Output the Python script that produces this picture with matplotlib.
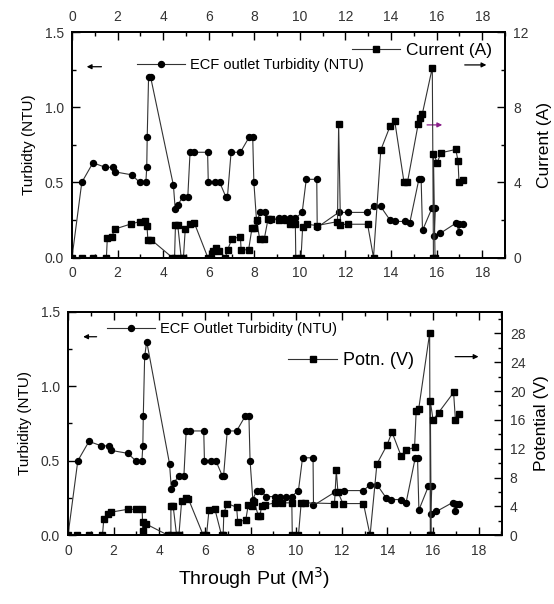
import matplotlib
matplotlib.use("Agg")
import matplotlib.pyplot as plt
from matplotlib.ticker import MultipleLocator, FixedLocator
from matplotlib.lines import Line2D

plt.rcParams['font.family'] = ['Liberation Sans', 'DejaVu Sans']

# ---- data ----
turb_x = [0.00, 0.43, 0.92, 1.46, 1.78, 1.87, 2.62, 2.97, 3.24, 3.28, 3.30, 3.36, 3.45,
          4.45, 4.53, 4.64, 4.85, 5.08, 5.18, 5.36, 5.95, 5.98, 6.27, 6.48, 6.76, 6.82,
          6.98, 7.39, 7.77, 7.93, 7.98, 8.10, 8.27, 8.45, 8.68, 9.07, 9.30, 9.55, 9.80,
          10.10, 10.28, 10.74, 10.76, 11.70, 12.09, 12.95, 13.24, 13.54, 13.95, 14.17,
          14.60, 14.82, 15.22, 15.32, 15.38, 15.80, 15.95, 15.89, 16.15, 16.86, 16.98,
          17.00, 17.15]
turb_top = [0.00, 0.50, 0.63, 0.60, 0.60, 0.57, 0.55, 0.50, 0.50, 0.60, 0.80, 1.20, 1.20,
            0.48, 0.32, 0.35, 0.40, 0.40, 0.70, 0.70, 0.70, 0.50, 0.50, 0.50, 0.40, 0.40,
            0.70, 0.70, 0.80, 0.80, 0.50, 0.24, 0.30, 0.30, 0.25, 0.26, 0.26, 0.26, 0.26,
            0.30, 0.52, 0.52, 0.20, 0.30, 0.30, 0.30, 0.34, 0.34, 0.25, 0.24,
            0.24, 0.23, 0.52, 0.52, 0.18, 0.33, 0.33, 0.14, 0.16, 0.23, 0.17,
            0.22, 0.22]
turb_bot = [0.00, 0.50, 0.63, 0.60, 0.60, 0.57, 0.55, 0.50, 0.50, 0.60, 0.80, 1.20, 1.30,
            0.48, 0.31, 0.35, 0.40, 0.40, 0.70, 0.70, 0.70, 0.50, 0.50, 0.50, 0.40, 0.40,
            0.70, 0.70, 0.80, 0.80, 0.50, 0.24, 0.30, 0.30, 0.26, 0.26, 0.26, 0.26, 0.26,
            0.30, 0.52, 0.52, 0.20, 0.29, 0.30, 0.30, 0.34, 0.34, 0.25, 0.24,
            0.24, 0.22, 0.52, 0.52, 0.17, 0.33, 0.33, 0.14, 0.16, 0.22, 0.16,
            0.21, 0.21]

cur_x = [0.00, 0.43, 0.92, 1.51, 1.55, 1.75, 1.87, 2.60, 2.97, 3.20, 3.29, 3.33, 3.48,
         4.40, 4.50, 4.54, 4.64, 4.79, 4.89, 4.97, 5.16, 5.37, 5.96, 6.10, 6.18, 6.32,
         6.47, 6.73, 6.83, 7.01, 7.39, 7.42, 7.75, 7.90, 8.00, 8.10, 8.23, 8.44, 8.60,
         8.75, 9.10, 9.40, 9.55, 9.80, 9.82, 10.05, 10.12, 10.30, 10.75, 11.65, 11.70,
         11.78, 12.09, 12.97, 13.23, 13.55, 13.96, 14.16, 14.57, 14.72, 15.19, 15.27,
         15.37, 15.81, 15.86, 15.93, 15.86, 16.03, 16.18, 16.84, 16.94, 16.98, 17.16]
current = [0, 0, 0, 0, 1.03, 1.11, 1.51, 1.79, 1.91, 1.95, 1.68, 0.94, 0.94,
           0, 0, 1.73, 1.73, 0, 0, 1.51, 1.79, 1.83, 0, 0, 0.35, 0.50,
           0.32, 0, 0.41, 0.98, 1.11, 0.41, 0.41, 1.59, 1.59, 2.00, 1.01, 1.01, 2.03,
           2.03, 2.00, 2.00, 1.80, 1.80, 0, 0, 1.60, 1.77, 1.70, 1.91, 7.10,
           1.75, 1.77, 1.77, 0, 5.72, 7.00, 7.27, 4.00, 4.00, 7.10, 7.40,
           7.63, 10.10, 0, 0, 5.50, 5.04, 5.57, 5.75, 5.13, 4.03, 4.13]

pot_x = [0.00, 0.41, 0.92, 1.51, 1.57, 1.76, 1.87, 2.61, 2.97, 3.25, 3.28, 3.30, 3.40,
         4.39, 4.51, 4.51, 4.61, 4.76, 4.86, 4.98, 5.15, 5.27, 5.93, 6.07, 6.18, 6.44,
         6.73, 6.80, 6.83, 6.98, 7.39, 7.44, 7.79, 7.90, 8.08, 8.17, 8.34, 8.41, 8.49,
         8.63, 9.07, 9.40, 9.81, 9.83, 10.10, 10.22, 10.39, 11.68, 11.76, 11.83, 12.05,
         12.95, 13.24, 13.54, 13.98, 14.20, 14.60, 14.82, 15.19, 15.26, 15.37, 15.85,
         15.88, 15.92, 15.88, 16.00, 16.24, 16.90, 16.98, 17.12]
potential = [0, 0, 0, 0, 2.3, 2.9, 3.2, 3.6, 3.6, 3.6, 0.6, 1.8, 1.6,
             0, 0, 4.0, 4.0, 0, 0, 4.7, 5.2, 5.1, 0, 0, 3.5, 3.6,
             0, 0, 3.1, 4.4, 3.9, 1.9, 2.1, 4.2, 4.1, 4.6, 2.7, 2.7, 4.1,
             4.2, 4.5, 4.5, 4.5, 0, 0, 4.5, 4.5, 4.4, 9.0, 6.0, 4.4,
             4.4, 0, 9.9, 12.5, 14.3, 11.0, 11.8, 12.2, 17.2, 17.5, 28.0,
             0, 0, 18.6, 16.0, 17.0, 19.8, 16.0, 16.8]

x_ticks = list(range(0, 19, 2))
turb_ticks = [0.0, 0.5, 1.0, 1.5]
cur_ticks = [0, 4, 8, 12]
pot_ticks = [0, 4, 8, 12, 16, 20, 24, 28]

W, H = 554, 604
fig = plt.figure(figsize=(W / 100, H / 100), dpi=100)
ax1 = fig.add_axes([72 / W, 1 - 257.5 / H, 433 / W, 225.5 / H])
ax3 = fig.add_axes([68 / W, 1 - 535.3 / H, 433.5 / W, 223.6 / H])
ax2 = ax1.twinx()
ax4 = ax3.twinx()

line_kw = dict(color='#333333', lw=0.8, mfc='k', mec='k', ms=4.3)
tick_col = '#333333'


def style(ax, axr, rlim, rticks, rminor, top_labels):
    ax.set_xlim(0, 19)
    ax.set_ylim(0, 1.5)
    ax.xaxis.set_major_locator(FixedLocator(x_ticks))
    ax.xaxis.set_minor_locator(MultipleLocator(1))
    ax.yaxis.set_major_locator(FixedLocator(turb_ticks))
    ax.yaxis.set_minor_locator(MultipleLocator(0.25))
    ax.set_yticklabels(['%.1f' % t for t in turb_ticks])
    ax.tick_params(which='both', direction='in', top=True, labeltop=top_labels,
                   labelsize=10, labelcolor=tick_col, pad=6, width=1)
    ax.tick_params(which='major', length=6)
    ax.tick_params(which='minor', length=3)
    axr.set_ylim(*rlim)
    axr.yaxis.set_major_locator(FixedLocator(rticks))
    axr.yaxis.set_minor_locator(MultipleLocator(rminor))
    axr.tick_params(which='both', direction='in', labelsize=10,
                    labelcolor=tick_col, pad=6, width=1)
    axr.tick_params(which='major', length=6)
    axr.tick_params(which='minor', length=3)
    for a in (ax, axr):
        for s in a.spines.values():
            s.set_linewidth(1.3)


def arrow(ax, x0, x1, y, color='k'):
    ax.annotate('', xy=(x1, y), xytext=(x0, y), xycoords='axes fraction',
                arrowprops=dict(arrowstyle='-|>', lw=0.9, color=color,
                                mutation_scale=7, shrinkA=0, shrinkB=0))


# ---- top panel: turbidity + current ----
l1, = ax1.plot(turb_x, turb_top, '-o', **line_kw)
l2, = ax2.plot(cur_x, current, '-s', **line_kw)
style(ax1, ax2, (0, 12), cur_ticks, 2, True)
ax1.set_ylabel('Turbidty (NTU)', fontsize=11, labelpad=6)
ax2.set_ylabel('Current (A)', fontsize=12.5, labelpad=6)

ax1.legend([Line2D([], [], marker='o', **line_kw)], ['ECF outlet Turbidity (NTU)'],
           loc='center left', bbox_to_anchor=(0.149, 0.854), frameon=False,
           fontsize=10.5, handlelength=3.3, handletextpad=0.35, borderpad=0,
           borderaxespad=0)
ax2.legend([Line2D([], [], marker='s', **line_kw)], ['Current (A)'],
           loc='center left', bbox_to_anchor=(0.646, 0.917), frameon=False,
           fontsize=12.5, handlelength=2.8, handletextpad=0.35, borderpad=0,
           borderaxespad=0)
arrow(ax1, 0.068, 0.034, 0.846)
arrow(ax1, 0.907, 0.957, 0.854)
arrow(ax1, 0.82, 0.855, 0.588, color='#8a1f8a')

# ---- bottom panel: turbidity + potential ----
l3, = ax3.plot(turb_x, turb_bot, '-o', **line_kw)
l4, = ax4.plot(pot_x, potential, '-s', **line_kw)
style(ax3, ax4, (0, 31), pot_ticks, 2, False)
ax3.set_ylabel('Turbidity (NTU)', fontsize=11, labelpad=6)
ax4.set_ylabel('Potential (V)', fontsize=12.5, labelpad=6)

ax3.legend([Line2D([], [], marker='o', **line_kw)], ['ECF Outlet Turbidity (NTU)'],
           loc='center left', bbox_to_anchor=(0.089, 0.923), frameon=False,
           fontsize=10.5, handlelength=3.3, handletextpad=0.35, borderpad=0,
           borderaxespad=0)
ax4.legend([Line2D([], [], marker='s', **line_kw)], ['Potn. (V)'],
           loc='center left', bbox_to_anchor=(0.508, 0.78), frameon=False,
           fontsize=13, handlelength=2.7, handletextpad=0.35, borderpad=0,
           borderaxespad=0)
arrow(ax3, 0.066, 0.035, 0.888)
arrow(ax3, 0.893, 0.947, 0.799)

fig.text(0.458, 0.043, 'Through Put (M$^3$)', ha='center', va='center', fontsize=14)

fig.savefig('out.png', dpi=100)
